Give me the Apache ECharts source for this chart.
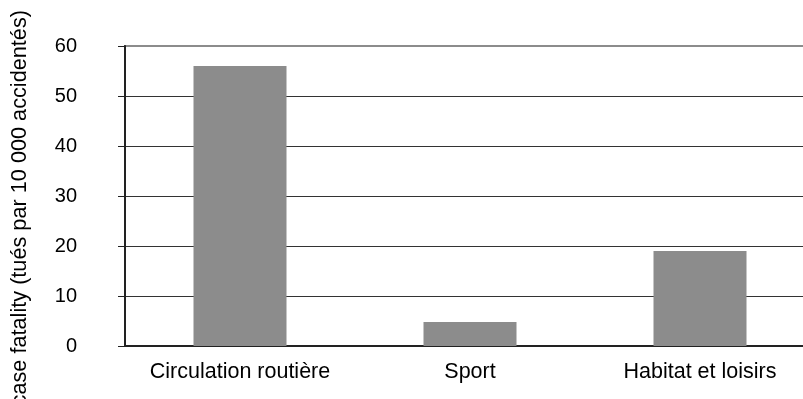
<!DOCTYPE html>
<html>
<head>
<meta charset="utf-8">
<script src="https://cdn.jsdelivr.net/npm/echarts@6/dist/echarts.min.js"></script>
<style>
  html, body { margin: 0; padding: 0; background: #fff; overflow: hidden; }
  #chart { width: 815px; height: 399px; }
</style>
</head>
<body>
<div id="chart"></div>
<script>
const categories = ['Circulation routière', 'Sport', 'Habitat et loisirs']
const values = [56, 4.8, 19]
const yTitle = 'case fatality (tués par 10 000 accidentés)'

const chart = echarts.init(document.getElementById('chart'))

chart.setOption({
  animation: false,
  grid: {
    left: 125,
    top: 46,
    right: 0,
    bottom: 53,
    containLabel: false,
    show: true,
    borderColor: '#8c8c8c',
    borderWidth: 2,
  },
  xAxis: {
    type: 'category',
    data: categories,
    axisLine: { lineStyle: { color: '#222', width: 2 } },
    axisTick: { length: 7, lineStyle: { color: '#222' } },
    axisLabel: { interval: 0, color: '#000', fontSize: 21.5, fontFamily: 'Liberation Sans', margin: 15 },
  },
  yAxis: {
    type: 'value',
    min: 0,
    max: 60,
    interval: 10,
    axisLine: { show: true, lineStyle: { color: '#222', width: 2 } },
    axisTick: { show: true, length: 7, lineStyle: { color: '#222' } },
    axisLabel: { color: '#000', fontSize: 20, fontFamily: 'Liberation Sans', margin: 48 },
    splitLine: {
      showMaxLine: false,
      lineStyle: { color: '#333', width: 1 },
    },
  },
  graphic: [
    {
      type: 'text',
      x: 20,
      y: 10,
      rotation: Math.PI / 2,
      style: {
        text: yTitle,
        fill: '#000',
        fontSize: 21.7,
        fontFamily: 'Liberation Sans',
        align: 'right',
        verticalAlign: 'middle',
      },
    },
  ],
  series: [
    {
      type: 'bar',
      data: values,
      barWidth: 93,
      itemStyle: { color: '#8c8c8c' },
    },
  ],
})
</script>
</body>
</html>
